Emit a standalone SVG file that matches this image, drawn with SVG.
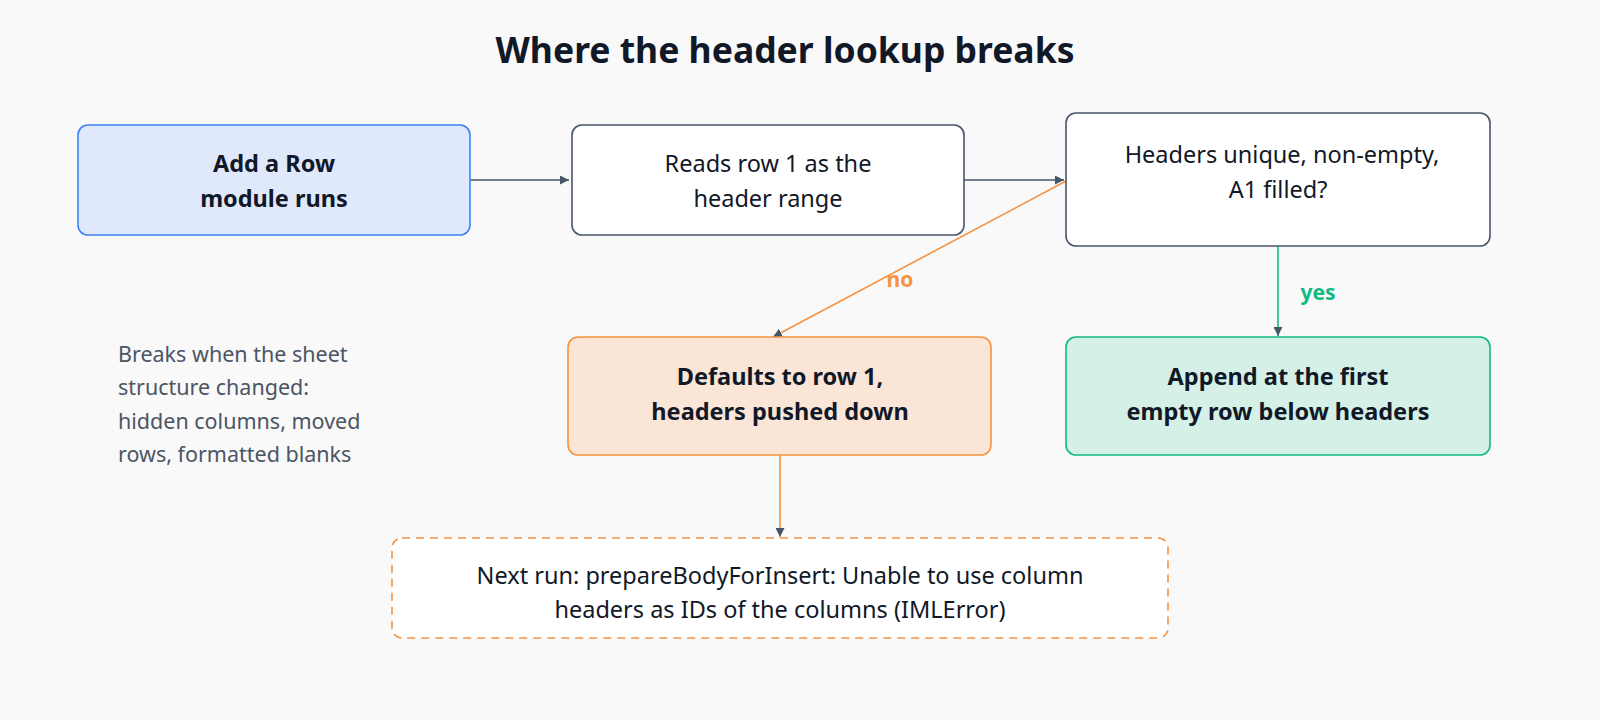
<svg xmlns="http://www.w3.org/2000/svg" width="1600" height="720" viewBox="0 0 1600 720">
<style>
text{font-family:"Noto Sans","Open Sans",sans-serif;font-size:23.5px;fill:#111827;text-anchor:middle}
.b{font-weight:bold;font-size:23.5px}
.note{font-size:21.5px;fill:#4b5563;text-anchor:start}
.n{stroke-width:1.6}
</style>
<defs>
<marker id="ah" viewBox="0 0 10 10" refX="10" refY="5" markerWidth="9" markerHeight="9" markerUnits="userSpaceOnUse" orient="auto"><path d="M0,0L10,5L0,10z" fill="#475569"/></marker>
</defs>
<rect width="1600" height="720" fill="#f9f9f9"/>
<text x="785" y="63" class="b" style="font-size:35.5px">Where the header lookup breaks</text>
<g id="connectors" fill="none" stroke-width="1.6">
<line x1="470" y1="180" x2="569" y2="180" stroke="#475569" marker-end="url(#ah)"/>
<line x1="964" y1="180" x2="1064" y2="180" stroke="#475569" marker-end="url(#ah)"/>
<line x1="1066" y1="181" x2="773" y2="337" stroke="#f59342" marker-end="url(#ah)"/>
<line x1="1278" y1="246" x2="1278" y2="336" stroke="#10b981" marker-end="url(#ah)"/>
<line x1="780" y1="455" x2="780" y2="537" stroke="#f59342" marker-end="url(#ah)"/>
<text x="900" y="287" class="b" style="fill:#f59342;font-size:21px">no</text>
<text x="1318" y="300" class="b" style="fill:#10b981;font-size:21px">yes</text>
</g>
<g id="n1"><rect class="n" x="78" y="125" width="392" height="110" rx="10" fill="#dfe9fb" stroke="#3b82f6"/>
<text x="274" y="172" class="b">Add a Row</text><text x="274" y="207" class="b">module runs</text></g>
<g id="n2"><rect class="n" x="572" y="125" width="392" height="110" rx="10" fill="#fff" stroke="#475569"/>
<text x="768" y="172">Reads row 1 as the</text><text x="768" y="207">header range</text></g>
<g id="n3"><rect class="n" x="1066" y="113" width="424" height="133" rx="10" fill="#fff" stroke="#475569"/>
<text x="1282" y="163">Headers unique, non-empty,</text><text x="1278" y="198">A1 filled?</text></g>
<g id="n4"><rect class="n" x="568" y="337" width="423" height="118" rx="10" fill="#fbe5d6" stroke="#f59342"/>
<text x="780" y="385" class="b">Defaults to row 1,</text><text x="780" y="420" class="b">headers pushed down</text></g>
<g id="n5"><rect class="n" x="1066" y="337" width="424" height="118" rx="10" fill="#d5f0e6" stroke="#10b981"/>
<text x="1278" y="385" class="b">Append at the first</text><text x="1278" y="420" class="b">empty row below headers</text></g>
<g id="n6"><rect class="n" x="392" y="538" width="776" height="100" rx="10" fill="#fff" stroke="#f59342" stroke-dasharray="8 6"/>
<text x="780" y="584">Next run: prepareBodyForInsert: Unable to use column</text><text x="780" y="618">headers as IDs of the columns (IMLError)</text></g>
<g id="note">
<text class="note" x="118" y="362">Breaks when the sheet</text>
<text class="note" x="118" y="395">structure changed:</text>
<text class="note" x="118" y="429">hidden columns, moved</text>
<text class="note" x="118" y="462">rows, formatted blanks</text>
</g>
</svg>
